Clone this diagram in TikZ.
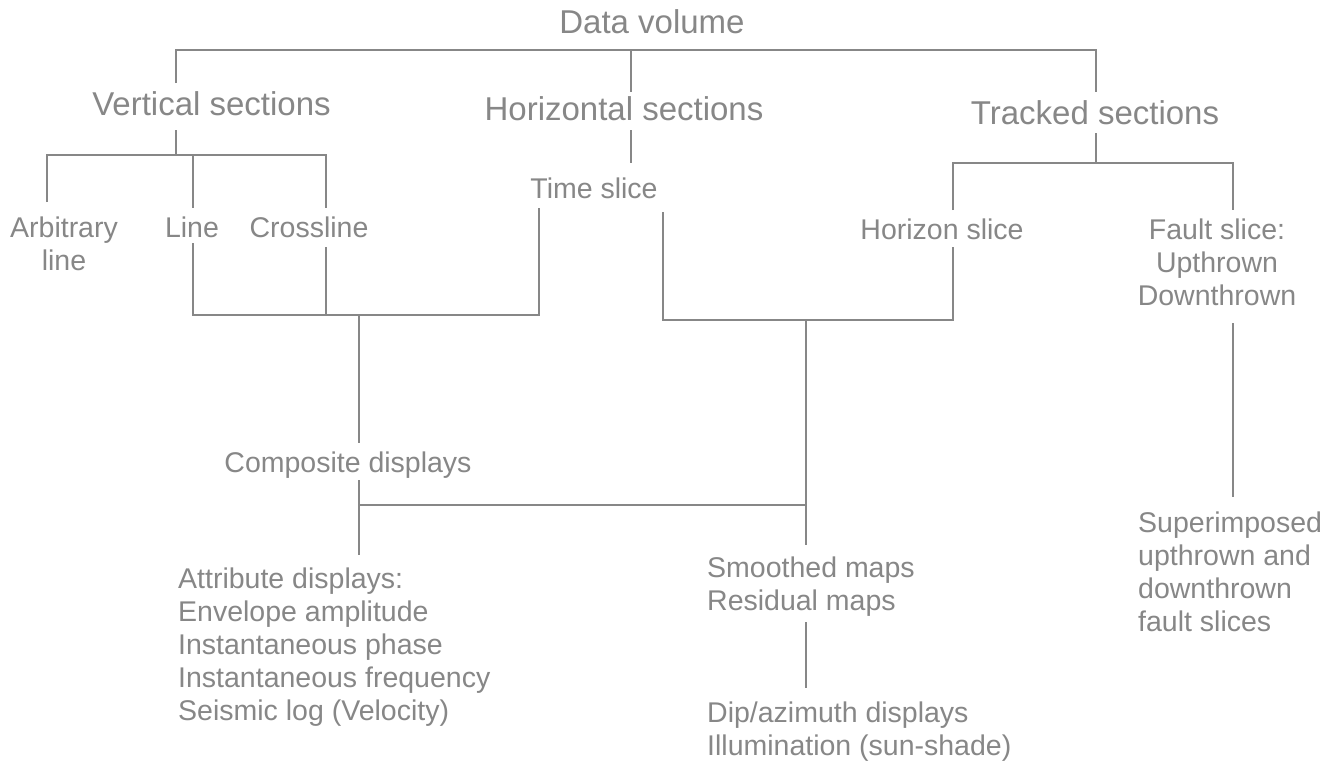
\documentclass[tikz,border=0pt]{standalone}
\usepackage{fontspec}
\setmainfont{Liberation Sans}
\definecolor{ink}{RGB}{135,135,135}
\begin{document}
\begin{tikzpicture}[x=1pt,y=-1pt,
  big/.style={font=\fontsize{33}{40}\selectfont, text=ink, inner sep=0pt, anchor=base},
  small/.style={font=\fontsize{28.5}{33}\selectfont, text=ink, inner sep=0pt},
  conn/.style={draw=ink, line width=1.8pt}]
\useasboundingbox[fill=white] (0,0) rectangle (1324,761);
% headings
\node[big] (dv) at (652,33) {Data volume};
\node[big] (vs) at (211.5,115) {Vertical sections};
\node[big] (hs) at (624,120) {Horizontal sections};
\node[big] (ts) at (1095,124) {Tracked sections};
% second level
\node[small,anchor=north,align=center] (arb) at (64,212) {\rule{0pt}{25pt}Arbitrary\\line};
\node[small,anchor=base] (line) at (192,237) {Line};
\node[small,anchor=base] (cross) at (309,237) {Crossline};
\node[small,anchor=base] (time) at (594,198) {Time slice};
\node[small,anchor=base] (hor) at (942,239) {Horizon slice};
\node[small,anchor=north,align=center] (fault) at (1217,214) {\rule{0pt}{25pt}Fault slice:\\Upthrown\\Downthrown};
\node[small,anchor=base] (comp) at (348,472) {Composite displays};
\node[small,anchor=north west,align=left] (attr) at (178,563) {\rule{0pt}{25pt}Attribute displays:\\Envelope amplitude\\Instantaneous phase\\Instantaneous frequency\\Seismic log (Velocity)};
\node[small,anchor=north west,align=left] (smooth) at (707,552) {\rule{0pt}{25pt}Smoothed maps\\Residual maps};
\node[small,anchor=north west,align=left] (dip) at (707,697) {\rule{0pt}{25pt}Dip/azimuth displays\\Illumination (sun-shade)};
\node[small,anchor=north west,align=left] (sup) at (1138,507) {\rule{0pt}{25pt}Superimposed\\upthrown and\\downthrown\\fault slices};
% junction coordinates
\coordinate (vsTop) at (176,83);
\coordinate (hsTop) at (631,92);
\coordinate (tsTop) at (1096,92);
\coordinate (vsBot) at (176,130);
\coordinate (hsBot) at (631,130);
\coordinate (tsBot) at (1096,133);
\coordinate (timeTop) at (631,163);
\coordinate (arbTop) at (47,202);
\coordinate (lineTop) at (193,208);
\coordinate (crossTop) at (326,208);
\coordinate (lineBot) at (193,243);
\coordinate (crossBot) at (326,247);
\coordinate (timeL) at (539,208);
\coordinate (timeR) at (663,212);
\coordinate (horTop) at (953,210);
\coordinate (horBot) at (953,247);
\coordinate (faultTop) at (1233,210);
\coordinate (faultBot) at (1233,323);
\coordinate (supTop) at (1233,497);
\coordinate (compTop) at (359,443);
\coordinate (compBot) at (359,480);
\coordinate (attrTop) at (359,555);
\coordinate (mapJ) at (806,320);
\coordinate (smoothTop) at (806,545);
\coordinate (smoothBot) at (806,622);
\coordinate (dipTop) at (806,688);
% connectors
\draw[conn] (vsTop) -- (176,50) -- (1096,50) -- (tsTop);
\draw[conn] (631,50) -- (hsTop);
\draw[conn] (hsBot) -- (timeTop);
\draw[conn] (vsBot) -- (176,155);
\draw[conn] (arbTop) -- (47,155) -- (326,155) -- (crossTop);
\draw[conn] (193,155) -- (lineTop);
\draw[conn] (lineBot) -- (193,315) -- (539,315) -- (timeL);
\draw[conn] (crossBot) -- (326,315);
\draw[conn] (tsBot) -- (1096,163);
\draw[conn] (horTop) -- (953,163) -- (1233,163) -- (faultTop);
\draw[conn] (timeR) -- (663,320) -- (953,320) -- (horBot);
\draw[conn] (359,315) -- (compTop);
\draw[conn] (compBot) -- (attrTop);
\draw[conn] (359,505) -- (806,505);
\draw[conn] (mapJ) -- (smoothTop);
\draw[conn] (smoothBot) -- (dipTop);
\draw[conn] (faultBot) -- (supTop);
\end{tikzpicture}
\end{document}
